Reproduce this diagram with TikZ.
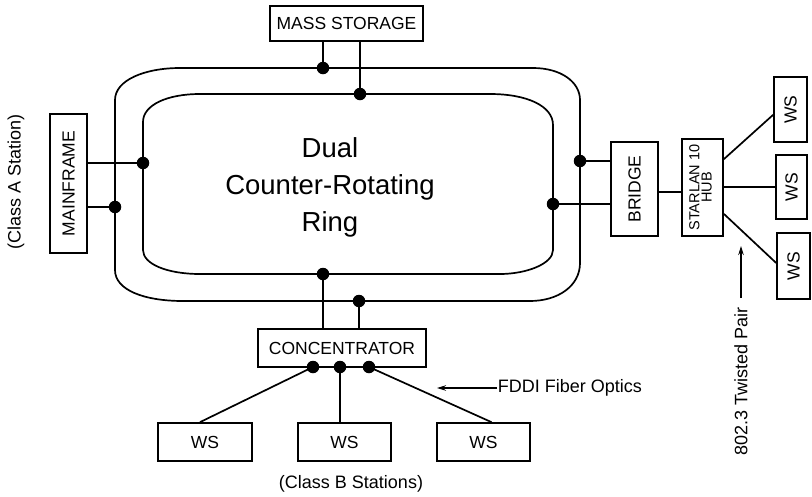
\documentclass[tikz,border=0pt]{standalone}
\usepackage{fontspec}
\setmainfont{Liberation Sans}
\usetikzlibrary{arrows.meta}
\begin{document}
\begin{tikzpicture}[x=1pt,y=-1pt,
  line width=1.7pt,
  box/.style={draw, rectangle, inner sep=0pt, line width=1.7pt,
    font=\fontsize{17.5}{19}\selectfont},
  dot/.style={circle, fill=black, inner sep=0pt, minimum size=12.5pt},
  lbl/.style={inner sep=1pt, font=\fontsize{18}{20}\selectfont},
  arr/.style={-{Stealth[length=9pt,width=5.5pt]}, line width=1.4pt}]
\useasboundingbox (0,0) rectangle (812,496);

% outer and inner rings
\draw (115,100) .. controls (115,80) and (145,68) .. (180,68) -- (533,68)
  .. controls (561,68) and (580,82) .. (580,100) -- (580,263)
  .. controls (580,286) and (558,301) .. (530,301) -- (183,301)
  .. controls (144,301) and (115,290) .. (115,270) -- cycle;
\draw (143,122) .. controls (143,105) and (167,94) .. (200,94) -- (490,94)
  .. controls (527,94) and (553,106) .. (553,125) -- (553,250)
  .. controls (553,264) and (526,274) .. (500,274) -- (200,274)
  .. controls (167,274) and (143,264) .. (143,250) -- cycle;

\node[align=center, font=\fontsize{27.5}{37}\selectfont] (ringtxt) at (330,187)
  {Dual\\Counter-Rotating\\Ring};

% stations and devices
\node[box, minimum width=153pt, minimum height=35pt] (ms) at (346.5,23.5) {MASS STORAGE};
\node[box, minimum width=37pt, minimum height=139pt] (mf) at (68.5,183.5) {\rotatebox{90}{MAINFRAME}};
\node[box, minimum width=47pt, minimum height=94pt] (br) at (634.5,189) {\rotatebox{90}{BRIDGE}};
\node[box, minimum width=41pt, minimum height=97pt] (hub) at (702.5,187.5)
  {\rotatebox{90}{\fontsize{14.5}{14}\selectfont\begin{tabular}{@{}c@{}}STARLAN 10\\[-2pt]HUB\end{tabular}}};
\node[box, minimum width=33pt, minimum height=65pt] (wsa) at (790.5,109.5) {\rotatebox{90}{WS}};
\node[box, minimum width=31pt, minimum height=64pt] (wsb) at (791.5,187) {\rotatebox{90}{WS}};
\node[box, minimum width=33pt, minimum height=66pt] (wsc) at (793.5,266) {\rotatebox{90}{WS}};
\node[box, minimum width=168pt, minimum height=38pt] (con) at (342,348) {CONCENTRATOR};
\node[box, minimum width=94pt, minimum height=38pt] (wb1) at (205,442) {WS};
\node[box, minimum width=93pt, minimum height=38pt] (wb2) at (344.5,442) {WS};
\node[box, minimum width=93pt, minimum height=38pt] (wb3) at (483.5,442) {WS};

% attachment points
\node[dot] (dms1) at (323,68) {};
\node[dot] (dms2) at (360,94) {};
\node[dot] (dmf1) at (143,163) {};
\node[dot] (dmf2) at (115,207) {};
\node[dot] (dbr1) at (580,161) {};
\node[dot] (dbr2) at (553,204) {};
\node[dot] (dcu1) at (323,274) {};
\node[dot] (dcu2) at (359,301) {};
\node[dot] (dc1) at (313,367) {};
\node[dot] (dc2) at (340,367) {};
\node[dot] (dc3) at (369,367) {};

% links to the rings
\draw (dms1.center) -- (dms1 |- ms.south);
\draw (dms2.center) -- (dms2 |- ms.south);
\draw (dmf1.center) -- (dmf1 -| mf.east);
\draw (dmf2.center) -- (dmf2 -| mf.east);
\draw (dbr1.center) -- (dbr1 -| br.west);
\draw (dbr2.center) -- (dbr2 -| br.west);
\draw (dcu1.center) -- (dcu1 |- con.north);
\draw (dcu2.center) -- (dcu2 |- con.north);

% bridge, hub and twisted-pair stations
\draw (br.east |- 0,192) -- (hub.west |- 0,192);
\draw (hub.53) -- (wsa.197);
\draw (hub.east |- wsb.west) -- (wsb.west);
\draw (hub.-51) -- (wsc.170);

% concentrator to class B stations
\draw (dc1.center) -- ([xshift=-5pt]wb1.north);
\draw (dc2.center) -- (dc2 |- wb2.north);
\draw (dc3.center) -- ([xshift=8pt]wb3.north);

% labels
\node[lbl, rotate=90] (clsa) at (16,182) {(Class A Station)};
\node[lbl] (clsb) at (351,484) {(Class B Stations)};
\node[lbl, anchor=west, inner sep=0pt] (fddi) at (497,388) {FDDI Fiber Optics};
\coordinate (fdditip) at (437,388);
\draw[arr] (fddi.west) -- (fdditip);
\node[lbl, rotate=90, anchor=west, inner sep=0pt] (tp) at (741,456) {802.3 Twisted Pair};
\coordinate (tptail) at (741,298);
\coordinate (tptip) at (741,246);
\draw[arr] (tptail) -- (tptip);
\end{tikzpicture}
\end{document}
